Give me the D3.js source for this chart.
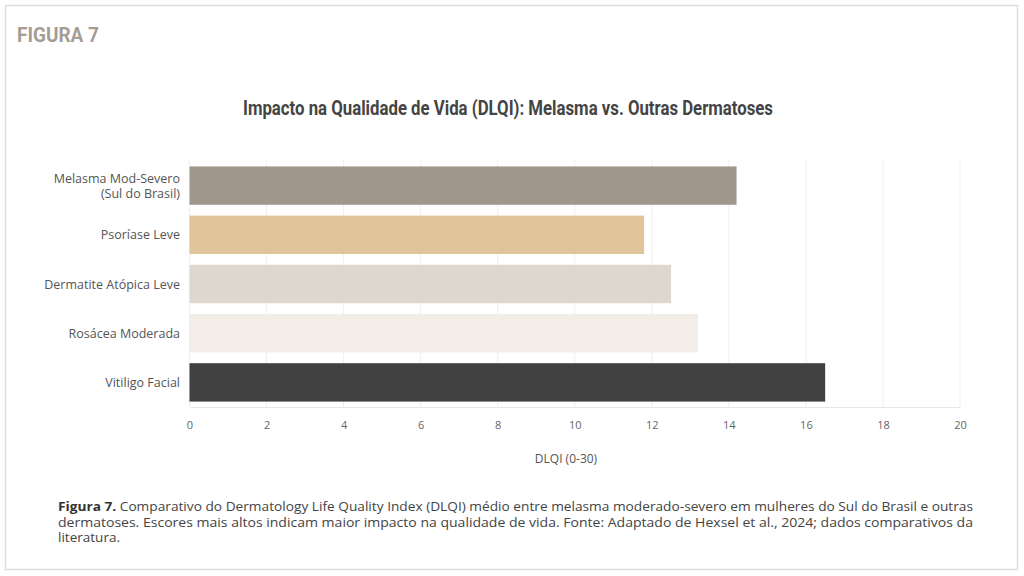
<!DOCTYPE html>
<html lang="pt">
<head>
<meta charset="utf-8">
<title>Figura 7 - DLQI</title>
<script src="https://d3js.org/d3.v7.min.js"></script>
<style>
    body { margin: 0; background: #fff; }
    svg { display: block; }
</style>
</head>
<body>
<div id="vis"></div>
<script>
    // Data
    var categories = ["Melasma Mod-Severo (Sul do Brasil)", "Psoríase Leve", "Dermatite Atópica Leve", "Rosácea Moderada", "Vitiligo Facial"];
    var labelLines = [["Melasma Mod-Severo", "(Sul do Brasil)"], ["Psoríase Leve"], ["Dermatite Atópica Leve"], ["Rosácea Moderada"], ["Vitiligo Facial"]];
    var dlqi = [14.2, 11.8, 12.5, 13.2, 16.5];
    var barColours = ["#a0978d", "#e0c59a", "#ddd8ce", "#f2eee7", "#404040"];
    var xTicks = [0, 2, 4, 6, 8, 10, 12, 14, 16, 18, 20];
    var captionLines = [
        ["Figura 7.", " Comparativo do Dermatology Life Quality Index (DLQI) médio entre melasma moderado-severo em mulheres do Sul do Brasil e outras"],
        ["", "dermatoses. Escores mais altos indicam maior impacto na qualidade de vida. Fonte: Adaptado de Hexsel et al., 2024; dados comparativos da"],
        ["", "literatura."]
    ];

    var W = 1024, H = 576;
    var svg = d3.select("#vis").append("svg").attr("width", W).attr("height", H);

    // Card frame
    svg.append("rect").attr("x", 5.5).attr("y", 5.5).attr("width", 1012).attr("height", 564)
        .attr("fill", "#fff").attr("stroke", "#dedede").attr("stroke-width", 1.5);

    // Header
    svg.append("text").attr("x", 17).attr("y", 42)
        .attr("font-family", "Roboto, sans-serif").attr("font-weight", 700).attr("font-size", 21)
        .attr("fill", "#a59d94").attr("textLength", 82).attr("lengthAdjust", "spacingAndGlyphs")
        .text("FIGURA 7");

    // Title
    svg.append("text").attr("x", 243).attr("y", 115)
        .attr("font-family", "Roboto, sans-serif").attr("font-weight", 700).attr("font-size", 19.5)
        .attr("fill", "#444").attr("textLength", 530).attr("lengthAdjust", "spacingAndGlyphs")
        .text("Impacto na Qualidade de Vida (DLQI): Melasma vs. Outras Dermatoses");

    // Scales
    var x = d3.scaleLinear().domain([0, 20]).range([189.5, 960]);
    var y = d3.scaleBand().domain(categories).range([161, 407]).paddingInner(0.22).paddingOuter(0.11);

    // Gridlines
    svg.append("g").selectAll("line").data(xTicks).join("line")
        .attr("x1", function(d) { return x(d); }).attr("x2", function(d) { return x(d); })
        .attr("y1", 160).attr("y2", 407)
        .attr("stroke", "#efefef").attr("stroke-width", 1);

    // Bars
    svg.append("g").selectAll("rect").data(dlqi).join("rect")
        .attr("x", x(0))
        .attr("y", function(d, i) { return y(categories[i]); })
        .attr("width", function(d) { return x(d) - x(0); })
        .attr("height", y.bandwidth())
        .attr("fill", function(d, i) { return barColours[i]; });

    // X axis
    var xAxis = svg.append("g").attr("transform", "translate(0,407)")
        .call(d3.axisBottom(x).tickValues(xTicks).tickSize(0).tickPadding(14));
    xAxis.select(".domain").attr("stroke", "#e6e6e6");
    xAxis.selectAll("text").attr("font-family", "'Open Sans', sans-serif").attr("font-size", 11).attr("fill", "#666");

    svg.append("text").attr("x", 566).attr("y", 463).attr("text-anchor", "middle")
        .attr("font-family", "'Open Sans', sans-serif").attr("font-size", 12).attr("fill", "#555")
        .text("DLQI (0-30)");

    // Y labels, one text per line
    labelLines.forEach(function(lines, i) {
        var cy = y(categories[i]) + y.bandwidth() / 2;
        lines.forEach(function(l, k) {
            svg.append("text").attr("text-anchor", "end").attr("x", 180)
                .attr("y", cy + (k - (lines.length - 1) / 2) * 15 + 4.5)
                .attr("font-family", "'Open Sans', sans-serif").attr("font-size", 12.5).attr("fill", "#555")
                .text(l);
        });
    });

    // Caption
    var capWidths = [915, 915, 62];
    captionLines.forEach(function(line, i) {
        var t = svg.append("text").attr("x", 58).attr("y", 511 + i * 15.5)
            .attr("font-family", "'Open Sans', sans-serif").attr("font-size", 12.5).attr("fill", "#444")
            .attr("textLength", capWidths[i]).attr("lengthAdjust", "spacingAndGlyphs");
        if (line[0]) t.append("tspan").attr("font-weight", 700).attr("fill", "#333").text(line[0]);
        t.append("tspan").text(line[1]);
    });
</script>
</body>
</html>
